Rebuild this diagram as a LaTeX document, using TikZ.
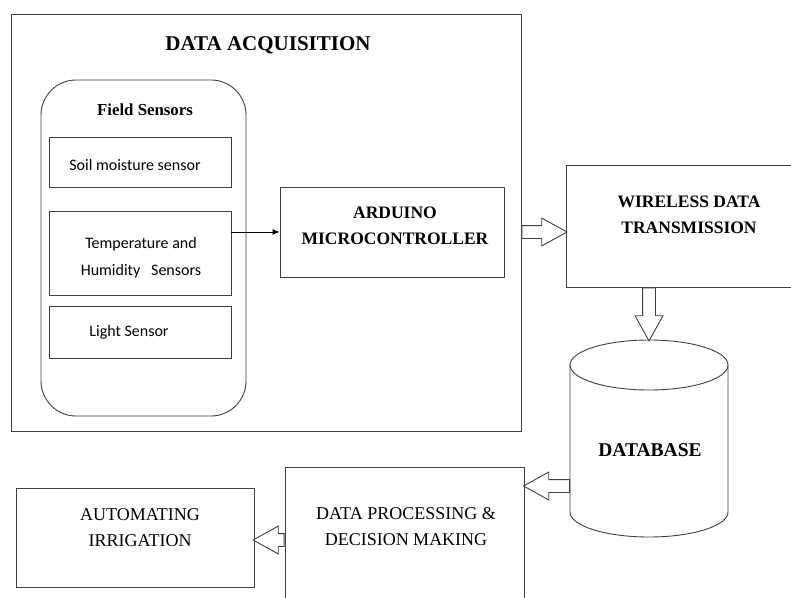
\documentclass[tikz,border=0pt]{standalone}
\usepackage{fontspec}
\setmainfont{Liberation Serif}
\newfontfamily\sensorfont{Carlito}
\usetikzlibrary{shapes.arrows,arrows.meta,calc}

\begin{document}
\begin{tikzpicture}[
    x=1pt, y=-1pt,
    box/.style={rectangle, draw=black!75, line width=0.9pt, inner sep=0pt},
    heading/.style={font=\bfseries\fontsize{17.5}{26}\selectfont, align=center},
    plain/.style={font=\fontsize{18}{26}\selectfont, align=center},
    sensor/.style={font=\sensorfont\fontsize{16}{27}\selectfont, align=center},
    hollow/.style={single arrow, draw=black!75, line width=0.9pt, fill=white, inner xsep=0pt, inner ysep=6pt,
        single arrow head extend=7.5pt, single arrow tip angle=58, minimum height=#1, anchor=tail},
    arrow/.style={-{Latex[length=7pt,width=6pt]}, line width=0.9pt}
]
\clip (0,0) rectangle (791,597);

% Data acquisition block
\node[box, minimum width=510pt, minimum height=417pt] (acq) at (266,222.5) {};
\node[heading, font=\bfseries\fontsize{21}{24}\selectfont] (acqtitle) at (268,45) {DATA ACQUISITION};

% Field sensors (rounded group)
\node[box, rounded corners=35pt, minimum width=205pt, minimum height=336pt] (field) at (143.5,248) {};
\node[heading, font=\bfseries\fontsize{16.8}{20}\selectfont] (fieldtitle) at (145,110) {Field Sensors};

\node[box, minimum width=182pt, minimum height=50pt] (soil) at (140,162) {};
\node[sensor] (soiltext) at (135,165) {Soil moisture sensor};

\node[box, minimum width=182pt, minimum height=84pt] (temp) at (140,253) {};
\node[sensor] (temptext) at (141,258) {Temperature and\\Humidity~~ Sensors};

\node[box, minimum width=182pt, minimum height=52pt] (light) at (140,332) {};
\node[sensor] (lighttext) at (129,332) {Light Sensor};

% Arduino
\node[box, minimum width=224pt, minimum height=90pt] (arduino) at (392,232) {};
\node[heading] (arduinotext) at (395,226) {ARDUINO\\MICROCONTROLLER};

\draw[arrow] (arduino.west -| temp.east) -- (arduino.west);

% Wireless transmission
\node[box, minimum width=240pt, minimum height=122pt] (wireless) at (686,226) {};
\node[heading] (wirelesstext) at (689,215) {WIRELESS DATA\\TRANSMISSION};

% Database cylinder
\node[minimum width=158pt, minimum height=197pt, inner sep=0pt] (db) at (649,438.5) {};
\draw[black!75, line width=0.9pt] (649,365) ellipse [x radius=79pt, y radius=25pt];
\draw[black!75, line width=0.9pt] (570,365) -- (570,512) arc[start angle=180, end angle=360, x radius=79pt, y radius=25pt] -- (728,365);
\node[heading, font=\bfseries\fontsize{19.5}{24}\selectfont] (dbtext) at (650,450) {DATABASE};
\coordinate (dbside) at (570,486);

% Processing and irrigation
\node[box, minimum width=239pt, minimum height=140pt] (proc) at (404.5,537) {};
\node[plain] (proctext) at (406,527) {DATA PROCESSING \&\\DECISION MAKING};

\node[box, minimum width=238pt, minimum height=99pt] (irrig) at (135,537.5) {};
\node[plain] (irrigtext) at (140,528) {AUTOMATING\\IRRIGATION};

% Block arrows
\node[hollow=45pt] (a1) at (acq.east |- arduino) {};
\node[hollow=53pt, rotate=-90] (a2) at (db.north |- wireless.south) {};
\node[hollow=46pt, rotate=180] (a3) at (dbside) {};
\node[hollow=31pt, rotate=180] (a4) at (proc.west |- 0,540) {};

\end{tikzpicture}
\end{document}
